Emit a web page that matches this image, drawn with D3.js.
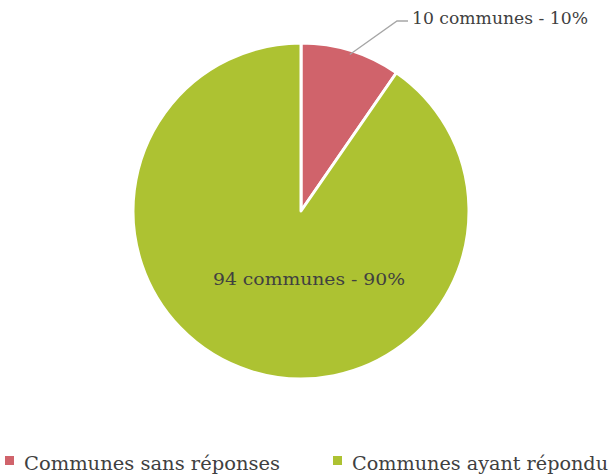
<!DOCTYPE html>
<html lang="fr">
<head>
<meta charset="UTF-8">
<title>Communes</title>
<script src="https://d3js.org/d3.v7.min.js"></script>
<style>
  body { margin: 0; background: #fff; }
  svg { display: block; font-family: "DejaVu Serif", "Liberation Serif", serif; }
</style>
</head>
<body>
<svg id="chart" width="616" height="476"></svg>
<script>
const categories = ["Communes sans réponses", "Communes ayant répondu"];
const counts = [10, 94];
const labels = ["10 communes - 10%", "94 communes - 90%"];
const colors = ["#D0636B", "#ADC232"];

const width = 616, height = 476;
const cx = 301, cy = 211, radius = 168;
const textColor = "#404040";

const svg = d3.select("#chart");

const pie = d3.pie().sort(null).value(d => d)(counts);
const arc = d3.arc().innerRadius(0).outerRadius(radius);

const g = svg.append("g").attr("transform", `translate(${cx},${cy})`);

g.selectAll("path")
  .data(pie)
  .enter()
  .append("path")
  .attr("d", arc)
  .attr("fill", (d, i) => colors[i])
  .attr("stroke", "#fff")
  .attr("stroke-width", 3)
  .attr("stroke-linejoin", "round");

// outside label for small slice with leader line
const small = pie[0];
const mid = (small.startAngle + small.endAngle) / 2;
const p0 = [Math.sin(mid) * (radius - 4), -Math.cos(mid) * (radius - 4)];
g.append("polyline")
  .attr("points", [p0, [96, -190], [107, -190]].map(p => p.join(",")).join(" "))
  .attr("fill", "none")
  .attr("stroke", "#a6a6a6")
  .attr("stroke-width", 1.3);
g.append("text")
  .attr("x", 111)
  .attr("y", -187)
  .attr("fill", textColor)
  .style("font-size", "17px")
  .attr("textLength", 176)
  .attr("lengthAdjust", "spacingAndGlyphs")
  .text(labels[0]);

// inside label for big slice
g.append("text")
  .attr("x", 8)
  .attr("y", 74)
  .attr("text-anchor", "middle")
  .attr("fill", textColor)
  .style("font-size", "17px")
  .attr("textLength", 192)
  .attr("lengthAdjust", "spacingAndGlyphs")
  .text(labels[1]);

// legend
const legendX = [5, 333];
const legendW = [256, 256];
const legend = svg.selectAll(".legend")
  .data(categories)
  .enter()
  .append("g")
  .attr("class", "legend")
  .attr("transform", (d, i) => `translate(${legendX[i]},456)`);
legend.append("rect")
  .attr("width", 9)
  .attr("height", 9)
  .attr("fill", (d, i) => colors[i]);
legend.append("text")
  .attr("x", 19)
  .attr("y", 14)
  .attr("fill", textColor)
  .style("font-size", "18px")
  .attr("textLength", (d, i) => legendW[i])
  .attr("lengthAdjust", "spacingAndGlyphs")
  .text(d => d);
</script>
</body>
</html>
